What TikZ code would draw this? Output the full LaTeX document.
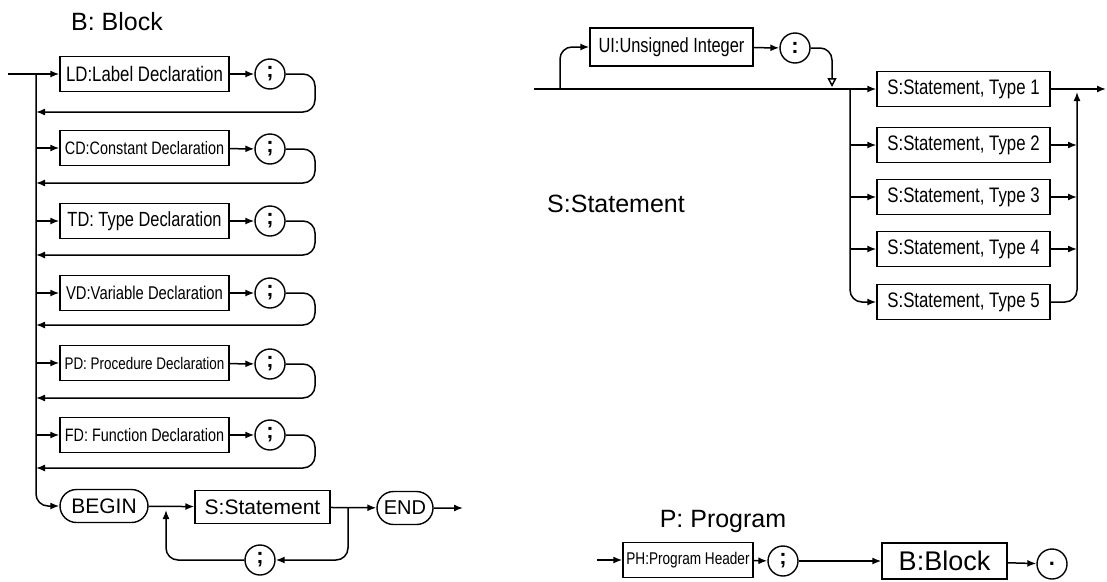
\documentclass[tikz,border=0pt]{standalone}
\usepackage{fontspec}
\setmainfont{Liberation Sans}
\newfontfamily\cond{Liberation Sans}[FakeStretch=0.8]
\usetikzlibrary{arrows.meta,shapes.misc}
\newcommand{\fs}[1]{\fontsize{#1}{#1}\selectfont}
\newcommand{\cf}[1]{\cond\fontsize{#1}{#1}\selectfont}
\begin{document}
\begin{tikzpicture}[x=1pt,y=-1pt,
  line width=1.5pt,
  >={Latex[length=9pt,width=7pt]},
  box/.style={draw, rectangle, minimum height=35pt, inner sep=1pt, line width=1.4pt},
  term/.style={draw, circle, minimum size=30pt, inner sep=0pt, line width=1.4pt, font=\fs{22}\bfseries},
  rterm/.style={draw, rounded rectangle, minimum height=33pt, inner sep=2pt, line width=1.4pt},
  title/.style={font=\fs{25}, anchor=base},
  conn/.style={rounded corners=12pt},
  openarrow/.style={-{Triangle[open,length=9pt,width=9pt]}}]

\useasboundingbox (0,0) rectangle (1107,581);

% ---------------- B: Block ----------------
\node[title] (btitle) at (117,30) {B: Block};

\node[box, minimum width=169pt, font=\cf{21}] (ld) at (144.5,74) {LD:Label Declaration};
\node[box, minimum width=169pt, font=\cf{18}] (cd) at (144.5,148) {CD:Constant Declaration};
\node[box, minimum width=169pt, font=\cf{20.5}] (td) at (144.5,221) {TD: Type Declaration};
\node[box, minimum width=169pt, font=\cf{18.5}] (vd) at (144.5,293) {VD:Variable Declaration};
\node[box, minimum width=169pt, font=\cf{16.8}] (pd) at (144.5,363) {PD: Procedure Declaration};
\node[box, minimum width=169pt, font=\cf{18}] (fd) at (144.5,435) {FD: Function Declaration};

\node[term] (lds) at (270,74) {;};
\node[term] (cds) at (270,149) {;};
\node[term] (tds) at (270,221) {;};
\node[term] (vds) at (270,293) {;};
\node[term] (pds) at (270,364) {;};
\node[term] (fds) at (270,435) {;};

\node[rterm, minimum width=92pt, font=\fs{21}] (begin) at (104,506) {BEGIN};
\node[box, minimum width=135pt, minimum height=33pt, font=\fs{21}] (bs) at (262.5,507) {S:Statement};
\node[rterm, minimum width=60pt, font=\fs{20}] (end) at (405,508) {END};
\node[term] (bsemi) at (260,560) {;};

\coordinate (bin) at (8,74);
\coordinate (bout) at (463,508);
\coordinate (r1) at (36,112);
\coordinate (r2) at (36,183);
\coordinate (r3) at (36,255);
\coordinate (r4) at (36,325);
\coordinate (r5) at (36,398);
\coordinate (r6) at (36,468);

% entry and main vertical
\draw[->] (bin) -- (ld);
\draw[conn,->] (36,74) -- (36,506) -- (begin);
\draw[->] (36,148) -- (cd);
\draw[->] (36,221) -- (td);
\draw[->] (36,293) -- (vd);
\draw[->] (36,363) -- (pd);
\draw[->] (36,435) -- (fd);

% boxes to semicolons
\draw[->] (ld) -- (lds);
\draw[->] (cd) -- (cds);
\draw[->] (td) -- (tds);
\draw[->] (vd) -- (vds);
\draw[->] (pd) -- (pds);
\draw[->] (fd) -- (fds);

% return loops
\draw[conn,->] (lds) -- (315,74) -- (315,112) -- (r1);
\draw[conn,->] (cds) -- (315,149) -- (315,183) -- (r2);
\draw[conn,->] (tds) -- (315,221) -- (315,255) -- (r3);
\draw[conn,->] (vds) -- (315,293) -- (315,325) -- (r4);
\draw[conn,->] (pds) -- (315,364) -- (315,398) -- (r5);
\draw[conn,->] (fds) -- (315,435) -- (315,468) -- (r6);

% statement list
\draw[->] (begin) -- (bs);
\draw[->] (bs) -- (end);
\draw[->] (end) -- (bout);
\draw[conn,->] (348,508) -- (348,560) -- (bsemi);
\draw[conn,->] (bsemi) -- (166,560) -- (166,510);

% ---------------- S: Statement ----------------
\node[title] (stitle) at (616,212) {S:Statement};

\node[box, minimum width=163pt, minimum height=38pt, font=\cf{20.5}] (ui) at (671.5,47) {UI:Unsigned Integer};
\node[term] (colon) at (795,48) {:};

\node[box, minimum width=173pt, font=\cf{21}] (t1) at (963.5,89) {S:Statement, Type 1};
\node[box, minimum width=173pt, font=\cf{21}] (t2) at (963.5,145) {S:Statement, Type 2};
\node[box, minimum width=173pt, font=\cf{21}] (t3) at (963.5,197) {S:Statement, Type 3};
\node[box, minimum width=173pt, font=\cf{21}] (t4) at (963.5,249) {S:Statement, Type 4};
\node[box, minimum width=173pt, font=\cf{21}] (t5) at (963.5,302) {S:Statement, Type 5};

\coordinate (sin) at (534,89);
\coordinate (sout) at (1106,89);

\draw[->] (sin) -- (t1);
\draw[conn,->] (560,89) -- (560,47) -- (ui);
\draw[->] (ui) -- (colon);
\draw[conn,openarrow] (colon) -- (832,48) -- (832,87);

\draw[conn,->] (850,89) -- (850,302) -- (t5);
\draw[->] (850,145) -- (t2);
\draw[->] (850,197) -- (t3);
\draw[->] (850,249) -- (t4);

\draw[->] (t1) -- (sout);
\draw[->] (t2) -- (1077,145);
\draw[->] (t3) -- (1077,197);
\draw[->] (t4) -- (1077,249);
\draw[conn,->] (t5) -- (1077,302) -- (1077,92);

% ---------------- P: Program ----------------
\node[title] (ptitle) at (723,527) {P: Program};

\node[box, minimum width=130pt, font=\cf{17}] (ph) at (688,560) {PH:Program Header};
\node[term] (psemi) at (783,561) {;};
\node[box, minimum width=125pt, minimum height=36pt, font=\fs{27}] (pb) at (944.5,561) {B:Block};
\node[term] (pdot) at (1052,564) {.};
\coordinate (pin) at (597,560);

\draw[->] (pin) -- (ph);
\draw[->] (ph) -- (psemi);
\draw[->] (psemi) -- (pb);
\draw[->] (pb) -- (pdot);

\end{tikzpicture}
\end{document}
